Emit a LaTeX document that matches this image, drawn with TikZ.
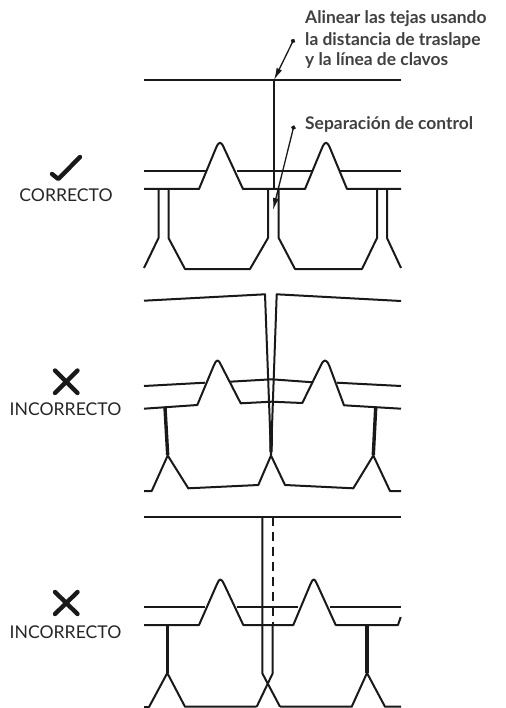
\documentclass[tikz,border=0pt]{standalone}
\usepackage{fontspec}
\setmainfont{Lato}
\usetikzlibrary{arrows.meta}
\tikzset{
 x=1pt,y=-1pt,
 ln/.style={line width=2pt,line join=round,black!90},
 thick tab/.style={line width=3.4pt,black!90},
 lead/.style={line width=1.3pt,black!90,{Circle[length=4.5pt]}-{Latex[length=12pt,width=6pt]}},
 callout/.style={anchor=base west,inner sep=0pt,font=\fontsize{17.4}{20}\selectfont\bfseries,text=black!75},
 verdict/.style={anchor=base,inner sep=0pt,font=\fontsize{17.6}{18}\selectfont,text=black!85},
 mark stroke/.style={line width=4.4pt,line cap=round,line join=round,black!90},
}
\begin{document}
\begin{tikzpicture}
\useasboundingbox (0,0) rectangle (505,708);
% callouts
\node[callout] (t1) at (305,24) {Alinear las tejas usando};
\node[callout] (t2) at (305,45.5) {la distancia de traslape};
\node[callout] (t3) at (305,66) {y la línea de clavos};
\node[callout] (t4) at (305,130) {Separación de control};
% verdicts
\draw[mark stroke] (52,174) -- (58.3,179) -- (80,157);
\node[verdict] (v1) at (66,201.5) {CORRECTO};
\draw[mark stroke] (55,370.5) -- (77.5,393) (77.5,370.5) -- (55,393);
\node[verdict] (v2) at (65.5,415.5) {INCORRECTO};
\draw[mark stroke] (55,592) -- (77.5,614) (77.5,592) -- (55,614);
\node[verdict] (v3) at (65.5,638.5) {INCORRECTO};
% panel 1
\draw[ln] (144,80) -- (401,80);
\draw[ln] (273.5,80) -- (273.5,189);
\draw[ln] (144,171) -- (207,171) (237,171) -- (312,171) (340,171) -- (401,171);
\draw[ln] (144,189) -- (199,189) -- (216,148) .. controls (219,141) and (221,141) .. (224,148) -- (243,189) -- (305,189) -- (322,148) .. controls (325,141) and (327,141) .. (330,148) -- (347,189) -- (401,189);
\draw[ln] (158.5,189) -- (158.5,238) -- (144,268);
\draw[ln] (168.5,189) -- (168.5,238) -- (185,269) -- (250,269) -- (268,238) -- (268,189);
\draw[ln] (278.7,189) -- (278.7,238) -- (295,269) -- (362,269) -- (377,238) -- (377,189);
\draw[ln] (387,189) -- (387,238) -- (401,268);
\coordinate (d1) at (294,39); \coordinate (h1) at (274,80);
\coordinate (d2) at (294,125.5); \coordinate (h2) at (273,210);
\draw[lead] (d1) -- (h1);
\draw[lead] (d2) -- (h2);
% panel 2
\draw[ln] (144,300.7) -- (265,294.3) -- (271,455);
\draw[ln] (401,301) -- (276.7,294.3) -- (271,455);
\draw[ln] (144,386) -- (205,382.7) (230,381.7) -- (271.7,379.3) -- (313,382.3) (337,382.7) -- (401,386);
\draw[ln] (144,408.7) -- (197.3,405) -- (214,365) .. controls (216.5,359) and (218.5,359) .. (221,365) -- (240.7,403.3) -- (271.7,401.7) -- (302.3,403) -- (321,365) .. controls (324,359) and (326,359) .. (329,365) -- (344,405.3) -- (401,408.7);
\draw[thick tab] (165,407.7) -- (167.7,455);
\draw[thick tab] (375.7,407.7) -- (373.3,455);
\draw[thick tab] (271.2,425) -- (271,452);
\draw[ln] (144,491) -- (151.7,491) -- (167.7,455.5) -- (188.3,488.3) -- (258.3,485) -- (271,455.5) -- (285,485) -- (353.3,488.3) -- (373.3,455.5) -- (390,491) -- (401,491);
% panel 3
\draw[ln] (144,516.5) -- (401,516.5);
\draw[ln] (262.3,516.5) -- (262.3,673.3) -- (280,706.7);
\draw[ln,dash pattern=on 9pt off 6pt] (272.7,516.5) -- (272.7,625);
\draw[ln] (272.7,625) -- (272.7,673.3) -- (256.7,706.7);
\draw[ln] (144,606.7) -- (205,606.7) (236.7,606.7) -- (298,606.7) (330,606.7) -- (401,606.7);
\draw[ln] (144,625) -- (199,625) -- (217,584) .. controls (219.5,578) and (221,578) .. (224,584) -- (243.3,625) -- (293.3,625) -- (310.5,584) .. controls (313,578) and (314.5,578) .. (317,584) -- (335.7,625) -- (398,625) -- (400.7,617);
\draw[thick tab] (167.3,625) -- (167.3,673);
\draw[thick tab] (367,625) -- (367,673);
\draw[ln] (144,707) -- (149,707) -- (167.3,673) -- (185,706.7) -- (256.7,706.7);
\draw[ln] (280,706.7) -- (351.7,706.7) -- (367,673) -- (385,706.7) -- (401,706.7);
\end{tikzpicture}
\end{document}
